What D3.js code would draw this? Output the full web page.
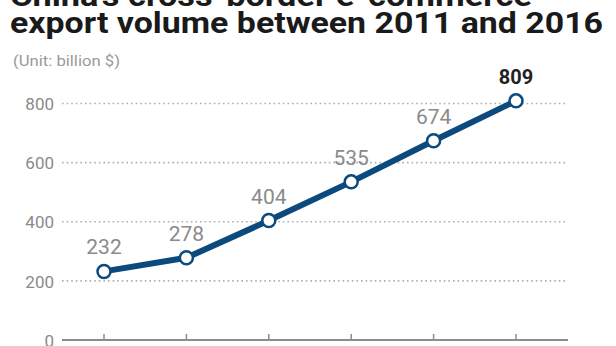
<!DOCTYPE html>
<html>
<head>
<meta charset="utf-8">
<script src="https://cdn.jsdelivr.net/npm/d3@7"></script>
<style>
  html, body { margin: 0; padding: 0; background: #fff; }
  svg { display: block; }
</style>
</head>
<body>
<svg id="chart" width="616" height="346"></svg>
<script>
const years = [2011, 2012, 2013, 2014, 2015, 2016];
const values = [232, 278, 404, 535, 674, 809];
const yTicks = [0, 200, 400, 600, 800];
const titleLines = ["China's cross-border e-commerce", "export volume between 2011 and 2016"];
const unitLabel = "(Unit: billion $)";

const svg = d3.select("#chart");

const x = d3.scalePoint().domain(years).range([104, 516]);
const y = d3.scaleLinear().domain([0, 800]).range([340, 103.5]);
const axisLeft = 62, axisRight = 568;

// Title
const title = svg.append("g");
title.append("text")
  .attr("x", 10).attr("y", 5.5)
  .attr("font-family", "Roboto, 'Open Sans', sans-serif")
  .attr("font-weight", 700).attr("font-size", 29).attr("fill", "#1a1a1a")
  .attr("textLength", 522).attr("lengthAdjust", "spacingAndGlyphs")
  .text(titleLines[0]);
title.append("text")
  .attr("x", 10).attr("y", 33)
  .attr("font-family", "Roboto, 'Open Sans', sans-serif")
  .attr("font-weight", 700).attr("font-size", 29).attr("fill", "#1a1a1a")
  .attr("textLength", 593).attr("lengthAdjust", "spacingAndGlyphs")
  .text(titleLines[1]);

svg.append("text")
  .attr("x", 13).attr("y", 66)
  .attr("font-family", "'Liberation Sans Narrow', Roboto, sans-serif")
  .attr("font-size", 14).attr("fill", "#9a9a9a")
  .attr("textLength", 107).attr("lengthAdjust", "spacingAndGlyphs")
  .text(unitLabel);

// Grid lines (dotted) for non-zero ticks
svg.append("g").selectAll("line")
  .data(yTicks.filter(d => d !== 0))
  .join("line")
  .attr("x1", axisLeft).attr("x2", axisRight)
  .attr("y1", d => y(d)).attr("y2", d => y(d))
  .attr("stroke", "#b0b0b0").attr("stroke-width", 1.6)
  .attr("stroke-dasharray", "1.6,3");

// Y axis labels via d3 axis
const yAxis = d3.axisLeft(y).tickValues(yTicks).tickSize(0).tickPadding(0).tickFormat(d3.format("d"));
const yg = svg.append("g").attr("transform", `translate(54,0)`).call(yAxis);
yg.select(".domain").remove();
yg.selectAll("text")
  .attr("font-family", "Roboto, sans-serif")
  .attr("font-size", 17).attr("fill", "#8a8a8a")
  .attr("dy", "0.36em");

// Baseline axis with ticks
const xAxis = d3.axisBottom(x).tickSize(0).tickFormat("");
const xg = svg.append("g").attr("transform", `translate(0,${y(0)})`).call(xAxis);
xg.select(".domain").remove();
svg.append("line")
  .attr("x1", axisLeft).attr("x2", axisRight)
  .attr("y1", y(0)).attr("y2", y(0))
  .attr("stroke", "#8c8c8c").attr("stroke-width", 2);
svg.append("g").selectAll("line")
  .data(years).join("line")
  .attr("x1", d => x(d)).attr("x2", d => x(d))
  .attr("y1", y(0)).attr("y2", y(0) - 6)
  .attr("stroke", "#8c8c8c").attr("stroke-width", 1.5);

// Line
const pts = years.map((yr, i) => ({ yr, v: values[i] }));
svg.append("path")
  .datum(pts)
  .attr("fill", "none")
  .attr("stroke", "#0c4a7e")
  .attr("stroke-width", 6)
  .attr("stroke-linejoin", "round")
  .attr("d", d3.line().x(d => x(d.yr)).y(d => y(d.v)));

svg.append("g").selectAll("circle")
  .data(pts).join("circle")
  .attr("cx", d => x(d.yr)).attr("cy", d => y(d.v))
  .attr("r", 6.5)
  .attr("fill", "#fff")
  .attr("stroke", "#0c4a7e").attr("stroke-width", 2.5);

// Value labels
svg.append("g").selectAll("text")
  .data(pts).join("text")
  .attr("x", d => x(d.yr))
  .attr("y", d => y(d.v) - 17)
  .attr("text-anchor", "middle")
  .attr("font-family", "Roboto, sans-serif")
  .attr("font-size", (d, i) => i === pts.length - 1 ? 20 : 21)
  .attr("font-weight", (d, i) => i === pts.length - 1 ? 700 : 400)
  .attr("fill", (d, i) => i === pts.length - 1 ? "#222" : "#8a8a8a")
  .text(d => d.v);
</script>
</body>
</html>
